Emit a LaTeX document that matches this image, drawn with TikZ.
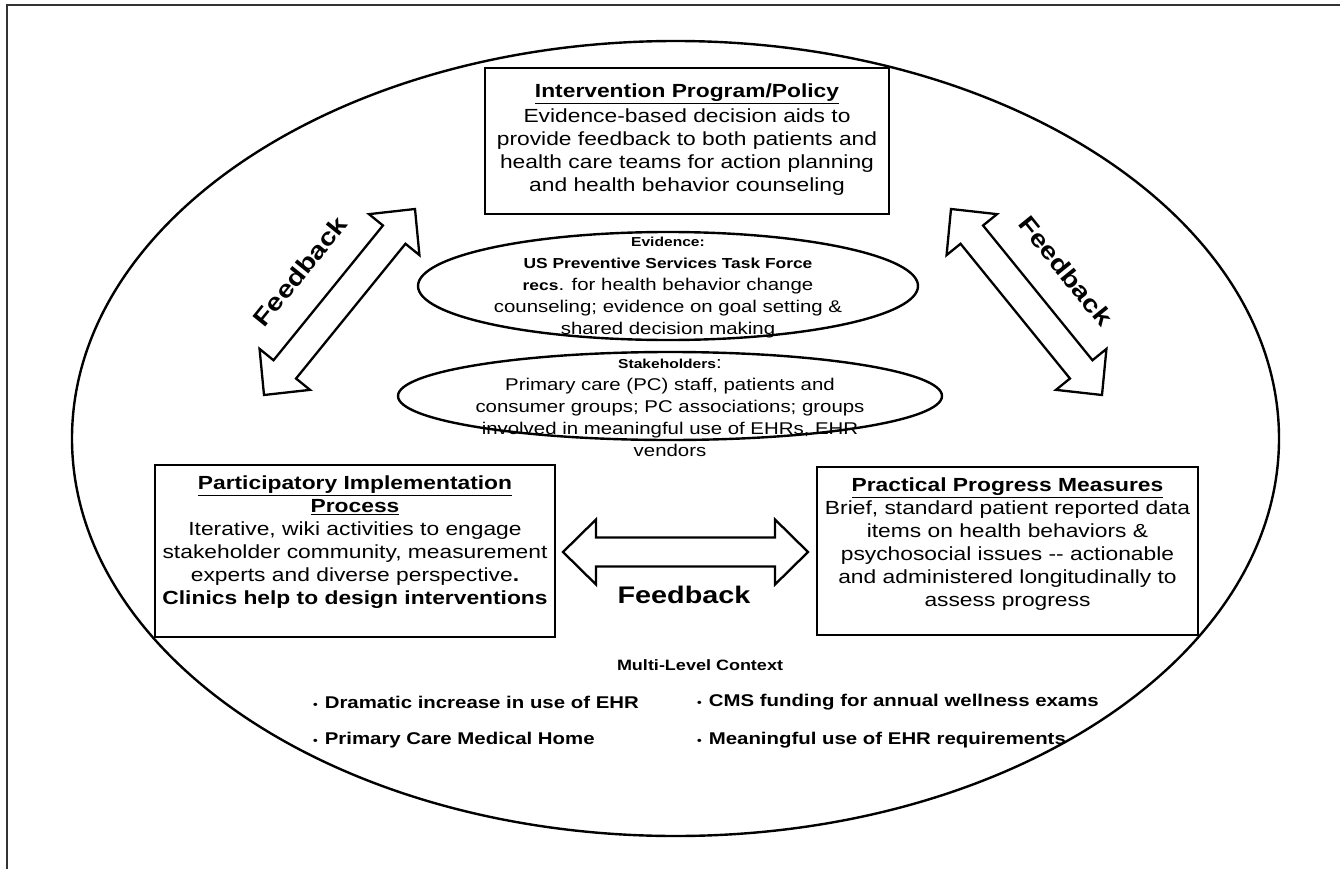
\documentclass[tikz,border=0pt]{standalone}
\usepackage{fontspec}
\setmainfont{Liberation Sans}[FakeStretch=1.2]
\usetikzlibrary{shapes.geometric,calc}
\tikzset{
  boxline/.style={draw, line width=2.9pt, fill=white, inner sep=0pt},
  ovalline/.style={draw, ellipse, line width=2.4pt, inner sep=0pt},
  fatline/.style={draw, line width=2.3pt, line join=miter, fill=white},
  boxtext/.style={align=center, inner sep=0pt, font=\fontsize{19}{23}\selectfont},
  ovaltext/.style={align=center, inner sep=0pt, font=\fontsize{17}{22}\selectfont},
  fbtext/.style={inner sep=0pt, font=\fontsize{24}{28}\selectfont\bfseries},
  ctxtext/.style={inner sep=0pt, anchor=west, font=\fontsize{17}{20}\selectfont\bfseries},
}
\newcommand\bul{{\fontsize{11}{11}\selectfont\textbullet}\hspace{7pt}}
\newcommand\hd[1]{{\fontsize{13}{22}\selectfont\bfseries #1}}
\newcommand\bd[1]{{\fontsize{14.5}{22}\selectfont\bfseries #1}}
\newcommand\fatarrow[3]{%
  \path ($(#1)!33pt!(#2)$) coordinate (#3b1) ($(#2)!33pt!(#1)$) coordinate (#3b2);
  \draw[fatline] (#1) -- ($(#3b1)!32.5pt!90:(#2)$) -- ($(#3b1)!14.5pt!90:(#2)$)
    -- ($(#3b2)!14.5pt!-90:(#1)$) -- ($(#3b2)!32.5pt!-90:(#1)$) -- (#2)
    -- ($(#3b2)!32.5pt!90:(#1)$) -- ($(#3b2)!14.5pt!90:(#1)$)
    -- ($(#3b1)!14.5pt!-90:(#2)$) -- ($(#3b1)!32.5pt!-90:(#2)$) -- cycle;}
\begin{document}
\begin{tikzpicture}[x=1pt,y=-1pt]
\useasboundingbox (0,0) rectangle (1340,869);
% frame
\coordinate (fr1) at (7,869);
\coordinate (fr2) at (7,5);
\coordinate (fr3) at (1340,5);
\draw[line width=1.4pt, black!80] (fr1) -- (fr2) -- (fr3);
% context ellipse
\node[ovalline, minimum width=1207pt, minimum height=795pt] (ctx) at (675.5,438.5) {};
% boxes
\node[boxline, minimum width=404pt, minimum height=146pt] (top) at (687,141) {};
\node[boxline, minimum width=400pt, minimum height=172pt] (left) at (355,551) {};
\node[boxline, minimum width=381pt, minimum height=168pt] (right) at (1007.5,551) {};
\node[boxtext] (toptext) at (687,140) {\underline{\textbf{Intervention Program/Policy}}\\[2pt]
  Evidence-based decision aids to\\ provide feedback to both patients and\\
  health care teams for action planning\\ and health behavior counseling};
\node[boxtext] (lefttext) at (355,542) {\underline{\textbf{Participatory Implementation}}\\
  \underline{\textbf{Process}}\\ Iterative, wiki activities to engage\\
  stakeholder community, measurement\\ experts and diverse perspective\textbf{.}\\
  \textbf{Clinics help to design interventions}};
\node[boxtext] (righttext) at (1007.5,544.5) {\underline{\textbf{Practical Progress Measures}}\\
  Brief, standard patient reported data\\ items on health behaviors \&\\
  psychosocial issues -{}- actionable\\ and administered longitudinally to\\ assess progress};
% ovals
\node[ovalline, minimum width=500pt, minimum height=108pt] (evid) at (668,286) {};
\node[ovalline, minimum width=544pt, minimum height=88pt] (stake) at (670,396) {};
\node[ovaltext] (evidtext) at (668,288) {\hd{Evidence:}\\ \bd{US Preventive Services Task Force}\\
  \bd{recs}. for health behavior change\\ counseling; evidence on goal setting \&\\ shared decision making};
\node[ovaltext] (staketext) at (670,408) {\hd{Stakeholders}:\\ Primary care (PC) staff, patients and\\
  consumer groups; PC associations; groups\\ involved in meaningful use of EHRs, EHR\\ vendors};
% feedback arrows
\coordinate (la1) at (264,395);
\coordinate (la2) at (415,209);
\coordinate (ra1) at (951,209);
\coordinate (ra2) at (1102,395);
\coordinate (ha1) at (563,552);
\coordinate (ha2) at (808,552);
\fatarrow{la1}{la2}{la}
\fatarrow{ra1}{ra2}{ra}
\fatarrow{ha1}{ha2}{ha}
\node[fbtext, rotate=51] (fbl) at (300,271) {Feedback};
\node[fbtext, rotate=-51] (fbr) at (1066,271) {Feedback};
\node[fbtext] (fbh) at (684,595) {Feedback};
% multi-level context
\node[inner sep=0pt, font=\fontsize{15}{18}\selectfont\bfseries] (ctxtitle) at (700,665) {Multi-Level Context};
\node[ctxtext] (c1) at (313,702) {\bul Dramatic increase in use of EHR};
\node[ctxtext] (c2) at (697,702) {\bul CMS funding for annual wellness exams};
\node[ctxtext] (c3) at (313,740) {\bul Primary Care Medical Home};
\node[ctxtext] (c4) at (697,740) {\bul Meaningful use of EHR requirements};
\end{tikzpicture}
\end{document}
